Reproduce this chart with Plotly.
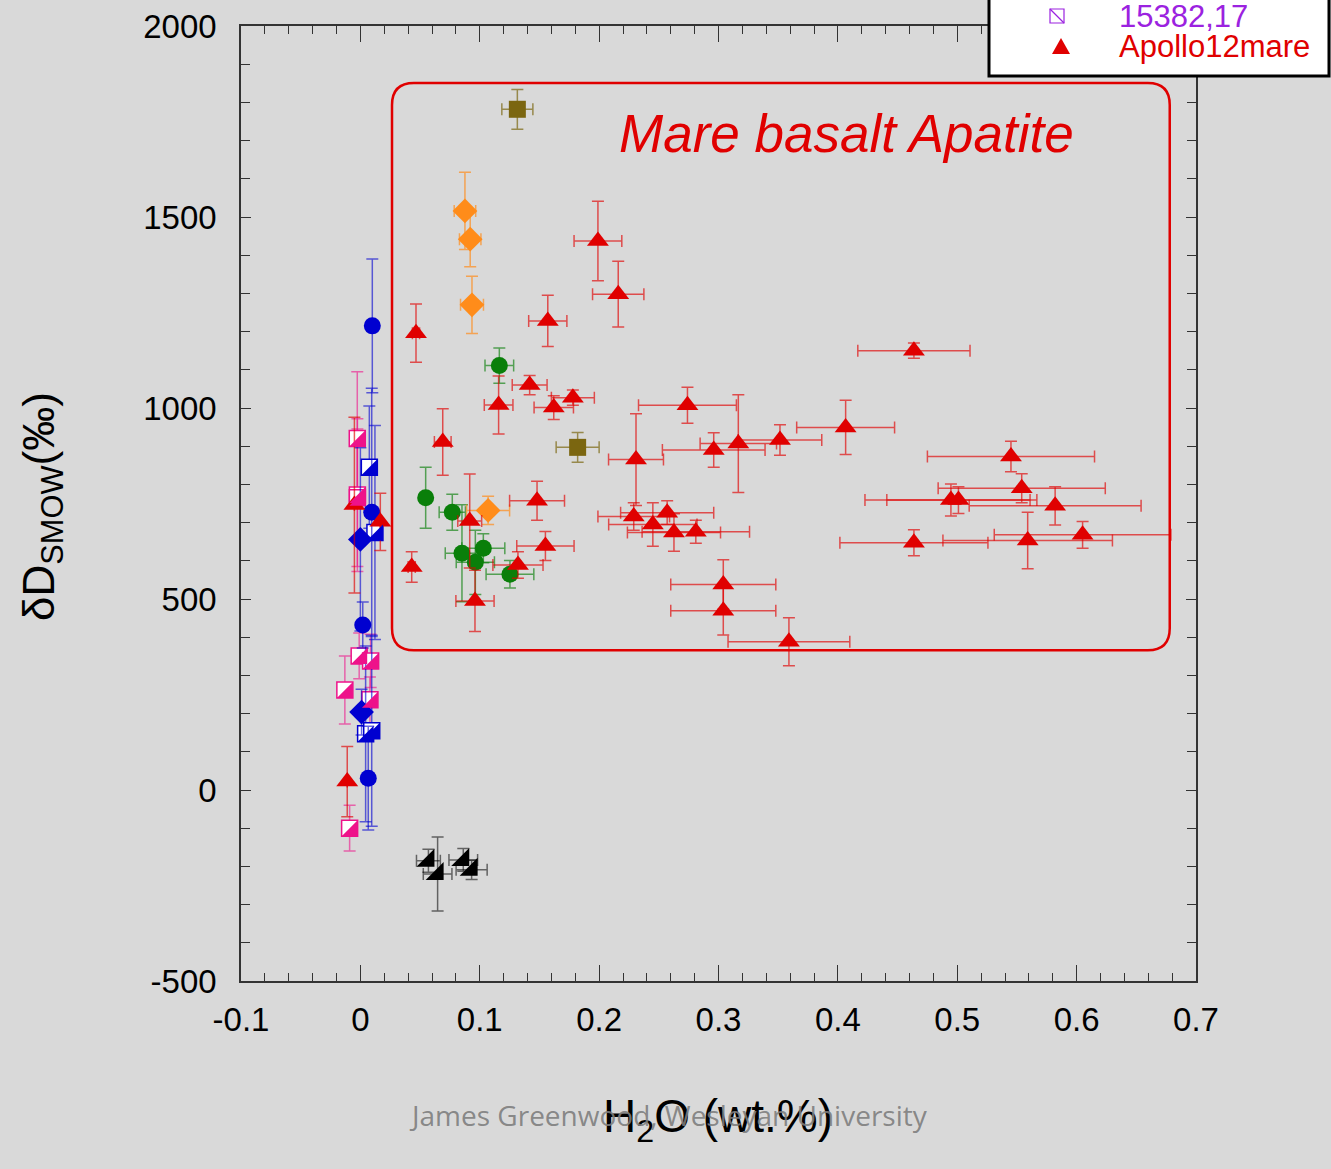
import plotly.graph_objects as go

# ---------------- data ----------------
# Apollo 12 mare basalts (red triangles)
red_x = [0.0466, 0.043, 0.069, 0.0916, 0.096, 0.1158, 0.132, 0.1418, 0.148, 0.155,
         0.157, 0.162, 0.178, 0.199, 0.216, 0.274, 0.2309, 0.296, 0.3166, 0.3515,
         0.4065, 0.229, 0.245, 0.257, 0.2627, 0.281, 0.304, 0.304, 0.359, 0.4637,
         0.545, 0.4947, 0.501, 0.554, 0.582, 0.4637, 0.559, 0.605,
         -0.005, 0.0167, -0.011]
red_y = [1196, 584, 911, 704, 495, 1008, 589, 1060, 757, 639,
         1228, 1001, 1027, 1437, 1298, 1007, 865, 890, 907, 916,
         949, 716, 695, 726, 674, 676, 538, 469, 388, 1150,
         873, 759, 759, 790, 744, 647, 653, 668,
         746, 702, 22]
red_xerr = [0.003, 0.003, 0.007, 0.01, 0.016, 0.012, 0.021, 0.0146, 0.023, 0.024,
            0.016, 0.0165, 0.018, 0.02, 0.0215, 0.041, 0.023, 0.043, 0.032, 0.035,
            0.041, 0.03, 0.037, 0.039, 0.039, 0.045, 0.044, 0.044, 0.051, 0.047,
            0.07, 0.072, 0.06, 0.07, 0.072, 0.062, 0.071, 0.074,
            0.0, 0.0, 0.0]
red_yerr = [76, 40, 87, 123, 80, 76, 35, 25, 51, 38,
            67, 31, 20, 104, 86, 47, 120, 45, 128, 40,
            71, 36, 57, 31, 49, 30, 65, 63, 63, 20,
            40, 42, 35, 38, 50, 34, 74, 35,
            230, 75, 92]

# green circles
green_x = [0.1164, 0.0547, 0.077, 0.0851, 0.103, 0.0963, 0.1253]
green_y = [1111, 765, 727, 620, 633, 596, 565]
green_xerr = [0.012, 0.0, 0.011, 0.014, 0.018, 0.016, 0.02]
green_yerr = [46, 80, 47, 127, 38, 84, 36]

# orange diamonds
orange_x = [0.0876, 0.092, 0.0935, 0.107]
orange_y = [1516, 1442, 1270, 732]
orange_xerr = [0.009, 0.009, 0.0096, 0.018]
orange_yerr = [101, 72, 75, 37]

# olive squares
olive_x = [0.1315, 0.182]
olive_y = [1782, 897]
olive_xerr = [0.013, 0.018]
olive_yerr = [52, 39]

# black half triangles
black_x = [0.057, 0.0647, 0.0862, 0.0932]
black_y = [-185, -220, -183, -209]
black_xerr = [0.01, 0.012, 0.012, 0.013]
black_yerr = [30, 97, 30, 25]

# blue circles
bcirc_x = [0.010, 0.0095, 0.002, 0.0066]
bcirc_y = [1215, 727, 432, 31]
bcirc_yerr = [175, 325, 60, 136]

# blue diamonds
bdiam_x = [0.0, 0.001]
bdiam_y = [656, 204]
bdiam_yerr = [240, 60]

# blue half squares
bsq_x = [0.0075, 0.0122, 0.0044, 0.0095]
bsq_y = [845, 674, 147, 155]
bsq_yerr = [160, 280, 230, 250]

# pink half squares
pink_x = [-0.0026, -0.0025, -0.0025, -0.001, 0.0086, -0.013, 0.008, -0.009]
pink_y = [920, 772, 765, 351, 338, 262, 236, -100]
pink_yerr = [175, 200, 180, 60, 70, 89, 60, 60]

x_ticks = [-0.1, 0, 0.1, 0.2, 0.3, 0.4, 0.5, 0.6, 0.7]
x_tick_text = ["-0.1", "0", "0.1", "0.2", "0.3", "0.4", "0.5", "0.6", "0.7"]
y_ticks = [-500, 0, 500, 1000, 1500, 2000]
y_tick_text = ["-500", "0", "500", "1000", "1500", "2000"]

legend_labels = ["15382,17", "Apollo12mare"]

# ---------------- styles ----------------
RED = "#e00000"
RED_E = "rgba(224,0,0,0.65)"
BLUE = "#0000d0"
BLUE_E = "rgba(0,0,208,0.6)"
PINK = "#ee128a"
PINK_E = "rgba(238,18,138,0.6)"
GREEN = "#0a7f0a"
GREEN_E = "rgba(10,127,10,0.65)"
ORANGE = "#ff8c1a"
ORANGE_E = "rgba(255,140,26,0.7)"
OLIVE = "#7b6610"
OLIVE_E = "rgba(123,102,16,0.7)"
BLACK_E = "rgba(0,0,0,0.55)"
PURPLE = "#9b22e0"
BG = "#d9d9d9"
FONT = "Liberation Sans, Arial, sans-serif"


def ebar(arr, color):
    return dict(type="data", array=arr, visible=True, color=color, thickness=1.5, width=6)


fig = go.Figure()

# blue / pink near-zero clusters
fig.add_trace(go.Scatter(x=pink_x, y=pink_y, mode="markers",
                         error_y=ebar(pink_yerr, PINK_E),
                         marker=dict(symbol="square", size=16, color="white",
                                     line=dict(color=PINK, width=1.5))))
fig.add_trace(go.Scatter(x=bsq_x, y=bsq_y, mode="markers",
                         error_y=ebar(bsq_yerr, BLUE_E),
                         marker=dict(symbol="square", size=16, color="white",
                                     line=dict(color=BLUE, width=1.5))))
fig.add_trace(go.Scatter(x=bdiam_x, y=bdiam_y, mode="markers",
                         error_y=ebar(bdiam_yerr, BLUE_E),
                         marker=dict(symbol="diamond", size=19, color=BLUE, line=dict(width=0))))
fig.add_trace(go.Scatter(x=bcirc_x, y=bcirc_y, mode="markers",
                         error_y=ebar(bcirc_yerr, BLUE_E),
                         marker=dict(symbol="circle", size=17, color=BLUE, line=dict(width=0))))

# black triangles
fig.add_trace(go.Scatter(x=black_x, y=black_y, mode="markers",
                         error_x=ebar(black_xerr, BLACK_E), error_y=ebar(black_yerr, BLACK_E),
                         marker=dict(symbol="triangle-se", size=20, color="black", line=dict(width=0))))

# green, orange, olive
fig.add_trace(go.Scatter(x=green_x, y=green_y, mode="markers",
                         error_x=ebar(green_xerr, GREEN_E), error_y=ebar(green_yerr, GREEN_E),
                         marker=dict(symbol="circle", size=17, color=GREEN, line=dict(width=0))))
fig.add_trace(go.Scatter(x=orange_x, y=orange_y, mode="markers",
                         error_x=ebar(orange_xerr, ORANGE_E), error_y=ebar(orange_yerr, ORANGE_E),
                         marker=dict(symbol="diamond", size=19, color=ORANGE, line=dict(width=0))))
fig.add_trace(go.Scatter(x=olive_x, y=olive_y, mode="markers",
                         error_x=ebar(olive_xerr, OLIVE_E), error_y=ebar(olive_yerr, OLIVE_E),
                         marker=dict(symbol="square", size=17, color=OLIVE, line=dict(width=0))))

# red triangles
fig.add_trace(go.Scatter(x=red_x, y=red_y, mode="markers",
                         error_x=ebar(red_xerr, RED_E), error_y=ebar(red_yerr, RED_E),
                         marker=dict(symbol="triangle-up", size=19, color=RED, line=dict(width=0))))

shapes = []
# lower-right filled halves of the half-filled squares
for xs, ys, col in [(pink_x, pink_y, PINK), (bsq_x, bsq_y, BLUE)]:
    for xv, yv in zip(xs, ys):
        shapes.append(dict(type="path", xref="x", yref="y",
                           xsizemode="pixel", ysizemode="pixel",
                           xanchor=xv, yanchor=yv,
                           path="M 8,8 L 8,-8 L -8,-8 Z",
                           fillcolor=col, line=dict(width=0), layer="above"))

# rounded "Mare basalt Apatite" frame (data coordinates)
bx0, bx1, by0, by1 = 0.0265, 0.678, 366, 1851
rx, ry = 0.0184, 57.6
frame_path = (f"M {bx0+rx},{by1} L {bx1-rx},{by1} Q {bx1},{by1} {bx1},{by1-ry} "
              f"L {bx1},{by0+ry} Q {bx1},{by0} {bx1-rx},{by0} "
              f"L {bx0+rx},{by0} Q {bx0},{by0} {bx0},{by0+ry} "
              f"L {bx0},{by1-ry} Q {bx0},{by1} {bx0+rx},{by1} Z")
shapes.append(dict(type="path", xref="x", yref="y", path=frame_path,
                   line=dict(color=RED, width=2.5), layer="below"))

# legend box (paper coordinates; plot area = 955 x 955 px, top at 26, bottom at 981)
TOP, BOT = 26, 981


def px(p):
    return (p - 241) / 955.0


def py(p):
    return (BOT - p) / float(BOT - TOP)


shapes.append(dict(type="rect", xref="paper", yref="paper",
                   x0=px(989), x1=px(1329), y0=py(76), y1=py(-10),
                   fillcolor="white", line=dict(color="black", width=3), layer="above"))
shapes.append(dict(type="rect", xref="paper", yref="paper",
                   x0=px(1050), x1=px(1064), y0=py(23), y1=py(9),
                   fillcolor="white", line=dict(color=PURPLE, width=1.2), layer="above"))
shapes.append(dict(type="line", xref="paper", yref="paper",
                   x0=px(1050), x1=px(1064), y0=py(9), y1=py(23),
                   line=dict(color=PURPLE, width=1.2), layer="above"))
shapes.append(dict(type="path", xref="paper", yref="paper",
                   path=f"M {px(1052)},{py(54)} L {px(1070)},{py(54)} L {px(1061)},{py(38)} Z",
                   fillcolor=RED, line=dict(width=0), layer="above"))

annotations = [
    dict(text="Mare basalt Apatite", x=px(846), y=py(133), xref="paper", yref="paper",
         showarrow=False, font=dict(family=FONT, size=53, color=RED, style="italic"),
         xanchor="center", yanchor="middle"),
    dict(text=legend_labels[0], x=px(1117), y=py(16), xref="paper", yref="paper",
         showarrow=False, font=dict(family=FONT, size=31, color=PURPLE),
         xanchor="left", yanchor="middle"),
    dict(text=legend_labels[1], x=px(1117), y=py(46), xref="paper", yref="paper",
         showarrow=False, font=dict(family=FONT, size=31, color=RED),
         xanchor="left", yanchor="middle"),
    dict(text="δD<sub>SMOW</sub>(‰)", x=px(42), y=py(507), xref="paper", yref="paper",
         showarrow=False, textangle=-90, font=dict(family=FONT, size=44, color="black"),
         xanchor="center", yanchor="middle"),
    dict(text="H<sub>2</sub>O (wt.%)", x=px(718), y=py(1088), xref="paper", yref="paper",
         showarrow=False, font=dict(family=FONT, size=46, color="black"),
         xanchor="center", yanchor="top"),
    dict(text="James Greenwood, Wesleyan University", x=px(668), y=py(1115),
         xref="paper", yref="paper", showarrow=False,
         font=dict(family="Open Sans, sans-serif", size=28, color="rgba(125,125,125,0.9)"),
         xanchor="center", yanchor="middle"),
]

AX = "#333333"
fig.update_layout(
    width=1331, height=1169,
    margin=dict(l=241, r=135, t=26, b=188, pad=0, autoexpand=False),
    paper_bgcolor=BG, plot_bgcolor=BG,
    showlegend=False,
    shapes=shapes,
    annotations=annotations,
    font=dict(family=FONT, color="black"),
    xaxis=dict(range=[-0.1, 0.7], tickvals=x_ticks, ticktext=x_tick_text, automargin=False,
               showgrid=False, zeroline=False, showline=True, linecolor=AX, linewidth=1.5,
               mirror="ticks", ticks="inside", ticklen=16, tickwidth=1.2, tickcolor=AX,
               minor=dict(dtick=0.02, tick0=0, ticks="inside", ticklen=8, tickwidth=1,
                          tickcolor=AX, showgrid=False),
               tickfont=dict(family=FONT, size=33, color="black"),
               ticklabelstandoff=9),
    yaxis=dict(range=[-500, 2000], tickvals=y_ticks, ticktext=y_tick_text, automargin=False,
               showgrid=False, zeroline=False, showline=True, linecolor=AX, linewidth=1.5,
               mirror="ticks", ticks="inside", ticklen=10, tickwidth=1.2, tickcolor=AX,
               minor=dict(dtick=100, tick0=0, ticks="inside", ticklen=9, tickwidth=1,
                          tickcolor=AX, showgrid=False),
               tickfont=dict(family=FONT, size=33, color="black"),
               ticklabelstandoff=16),
)

fig.write_html("out.html")
